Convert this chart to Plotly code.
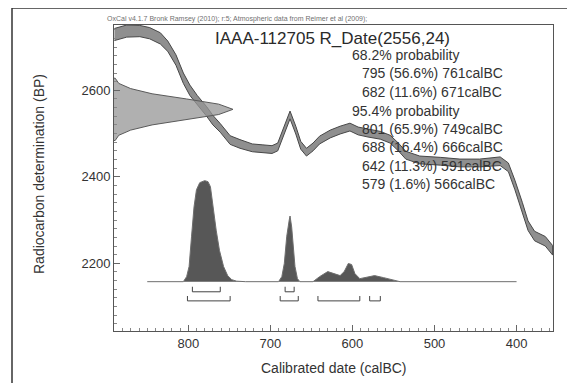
import plotly.graph_objects as go

# calibration curve (calBC, BP centre, BP half width)
cal_year = [890, 875, 859, 847, 834, 825, 815, 806, 798, 789, 778, 770, 761, 749,
            737, 722, 710, 698, 691, 683, 676, 669, 663, 656, 648, 640, 627, 615,
            603, 593, 581, 566, 554, 544, 535, 518, 493, 469, 445, 420, 410, 402,
            393, 386, 378, 365, 356]
cal_bp = [2729, 2737, 2737, 2732, 2720, 2702, 2670, 2628, 2600, 2577, 2552, 2531,
          2513, 2485, 2476, 2467, 2465, 2463, 2469, 2508, 2543, 2508, 2473, 2457,
          2469, 2485, 2499, 2508, 2515, 2506, 2501, 2496, 2487, 2469, 2450, 2439,
          2436, 2432, 2432, 2436, 2422, 2381, 2330, 2287, 2263, 2251, 2230]
cal_err = [14, 14, 13, 13, 13, 12, 12, 12, 12, 11, 11, 11, 10, 10,
           10, 9, 9, 9, 9, 9, 9, 9, 9, 9, 9, 9, 9, 9,
           9, 9, 9, 9, 9, 9, 9, 9, 9, 9, 9, 10, 10, 11,
           11, 11, 11, 11, 11]

# radiocarbon date R_Date(2556,24), relative density along BP
rdate_bp = [2484, 2496, 2508, 2520, 2532, 2544, 2556, 2568, 2580, 2592, 2604, 2616, 2628]
rdate_dens = [0.01, 0.04, 0.14, 0.32, 0.61, 0.88, 1.0, 0.88, 0.61, 0.32, 0.14, 0.04, 0.01]

# calibrated distribution, relative probability along calBC
post_year = [850, 806, 802, 799, 796, 793, 790, 786, 780, 776, 773, 770, 766, 762,
             757, 752, 747, 741, 730, 690, 686, 683, 680, 677, 676, 674, 672, 670,
             667, 664, 648, 640, 630, 623, 615, 610, 605, 601, 597, 591, 583, 573,
             562, 550, 542, 400]
post_prob = [0, 0, 0.05, 0.15, 0.45, 0.74, 0.91, 0.98, 1.0, 0.99, 0.94, 0.74, 0.51,
             0.31, 0.15, 0.06, 0.02, 0.005, 0, 0, 0.05, 0.18, 0.45, 0.61, 0.65, 0.54,
             0.34, 0.15, 0.03, 0, 0, 0.05, 0.10, 0.08, 0.06, 0.10, 0.18, 0.17, 0.08,
             0.03, 0.04, 0.06, 0.04, 0.02, 0, 0]

range68 = [(795, 761), (682, 671)]
range95 = [(801, 749), (688, 666), (642, 591), (579, 566)]

title_text = "IAAA-112705 R_Date(2556,24)"
prob_lines = ["68.2% probability", "795 (56.6%) 761calBC", "682 (11.6%) 671calBC",
              "95.4% probability", "801 (65.9%) 749calBC", "688 (16.4%) 666calBC",
              "642 (11.3%) 591calBC", "579 (1.6%) 566calBC"]
credit = ("OxCal v4.1.7 Bronk Ramsey (2010); r:5; "
          "Atmospheric data from Reimer et al (2009);")

FONT = "Liberation Sans, Arial, sans-serif"

fig = go.Figure()

# calibration band
upper = [b + e for b, e in zip(cal_bp, cal_err)]
lower = [b - e for b, e in zip(cal_bp, cal_err)]
fig.add_trace(go.Scatter(
    x=cal_year + cal_year[::-1], y=upper + lower[::-1],
    fill="toself", fillcolor="#8f8f8f", mode="lines",
    line=dict(color="#474747", width=1), hoverinfo="skip"))

# radiocarbon date on the y axis
fig.add_trace(go.Scatter(
    x=[0] + rdate_dens + [0], y=[rdate_bp[0]] + rdate_bp + [rdate_bp[-1]],
    xaxis="x2", yaxis="y", fill="toself", fillcolor="rgba(150,150,150,0.75)",
    mode="lines", line=dict(color="#5a5a5a", width=1), hoverinfo="skip"))

# calibrated distribution
fig.add_trace(go.Scatter(
    x=post_year, y=post_prob, xaxis="x", yaxis="y2", fill="tozeroy",
    fillcolor="#575757", mode="lines", line=dict(color="#6e6e6e", width=1),
    hoverinfo="skip"))

# range brackets
for ranges, base, top in [(range68, -0.10, -0.05), (range95, -0.19, -0.142)]:
    bx, by = [], []
    for a, b in ranges:
        bx += [a, a, b, b, None]
        by += [top, base, base, top, None]
    fig.add_trace(go.Scatter(x=bx, y=by, xaxis="x", yaxis="y2", mode="lines",
                             line=dict(color="#444444", width=1), hoverinfo="skip"))

ann = []
ann.append(dict(text=title_text, x=0.4966, y=0.957, xref="paper", yref="paper",
                showarrow=False, xanchor="center", yanchor="middle",
                font=dict(size=17, color="#2a2a2a", family=FONT)))
line_y = [55, 73.3, 92, 110.7, 129.3, 147.3, 165.7, 184.3]
for txt, py in zip(prob_lines, line_y):
    px = 350 if "probability" in txt else 360
    ann.append(dict(text=txt, x=(px - 114) / 439, y=(331 - py) / 306,
                    xref="paper", yref="paper", showarrow=False,
                    xanchor="left", yanchor="middle",
                    font=dict(size=14, color="#333333", family=FONT)))
ann.append(dict(text=credit, x=(105 - 114) / 439, y=(331 - 19) / 306,
                xref="paper", yref="paper", showarrow=False,
                xanchor="left", yanchor="middle",
                font=dict(size=7, color="#707070", family=FONT)))
ann.append(dict(text="Radiocarbon determination (BP)", x=(39 - 114) / 439,
                y=(331 - 174) / 306, xref="paper", yref="paper", showarrow=False,
                textangle=-90, xanchor="center", yanchor="middle",
                font=dict(size=14, color="#333333", family=FONT)))
ann.append(dict(text="Calibrated date (calBC)", x=(334 - 114) / 439,
                y=(331 - 368) / 306, xref="paper", yref="paper", showarrow=False,
                xanchor="center", yanchor="middle",
                font=dict(size=14, color="#333333", family=FONT)))

axis_common = dict(showgrid=False, zeroline=False, showline=True, mirror=True,
                   linecolor="#555555", linewidth=1, ticks="inside",
                   tickcolor="#666666", ticklen=6,
                   tickfont=dict(size=13, color="#333333", family=FONT))

# the page body has an 8px margin, so the figure is made 8px smaller
fig.update_layout(
    width=567, height=375,
    margin=dict(l=106, r=22, t=17, b=52),
    paper_bgcolor="white", plot_bgcolor="white",
    showlegend=False,
    annotations=ann,
    xaxis=dict(range=[890.5, 355.6], tickvals=[800, 700, 600, 500, 400],
               minor=dict(dtick=10, tick0=0, ticks="inside", ticklen=3,
                          tickcolor="#888888"), **axis_common),
    yaxis=dict(range=[2043.5, 2751], tickvals=[2200, 2400, 2600],
               minor=dict(dtick=20, tick0=0, ticks="inside", ticklen=3,
                          tickcolor="#888888"), **axis_common),
    xaxis2=dict(overlaying="x", anchor="y", range=[0, 3.689], visible=False),
    yaxis2=dict(overlaying="y", anchor="x", range=[-0.488, 2.54], visible=False),
    shapes=[
        dict(type="line", xref="paper", yref="paper", x0=(12 - 114) / 439,
             x1=(12 - 114) / 439, y0=(331 - 8) / 306, y1=(331 - 390) / 306,
             line=dict(color="#333333", width=1.5)),
        dict(type="line", xref="paper", yref="paper", x0=(12 - 114) / 439,
             x1=(590 - 114) / 439, y0=(331 - 8) / 306, y1=(331 - 8) / 306,
             line=dict(color="#333333", width=1.5)),
    ],
)

fig.write_html("out.html")
